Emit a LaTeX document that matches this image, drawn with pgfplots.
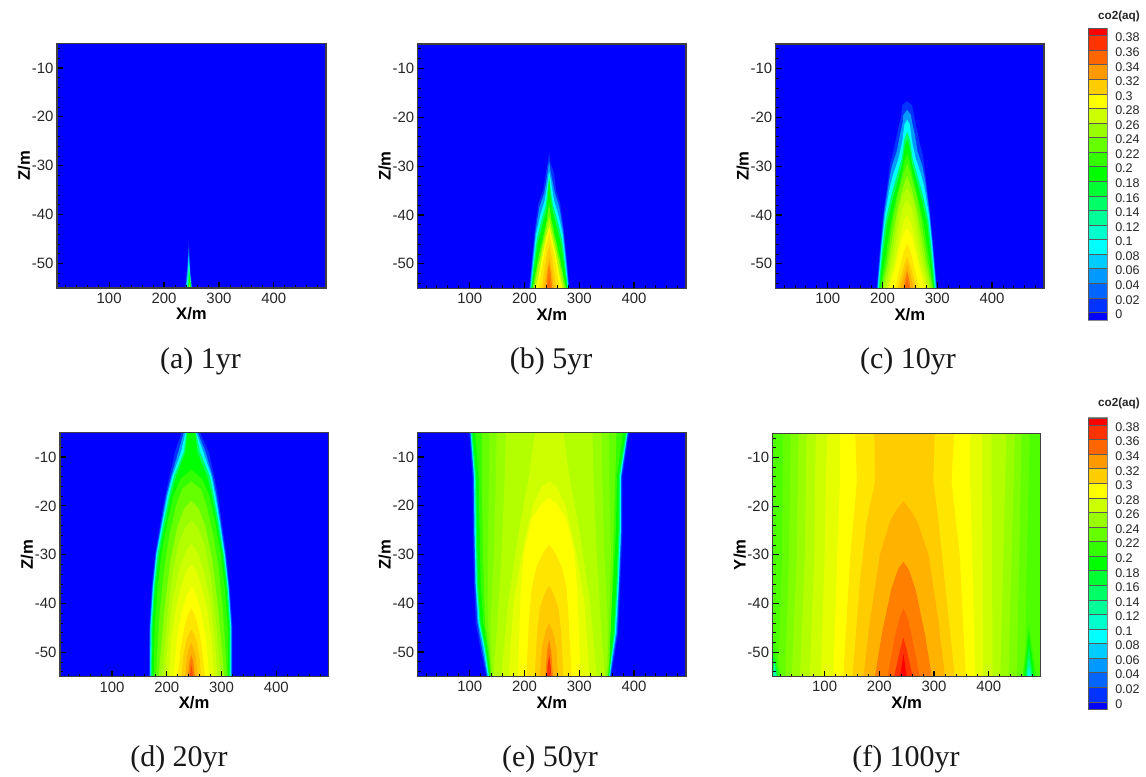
\documentclass[border=0pt]{standalone}
\usepackage{pgfplots}
\pgfplotsset{compat=1.18}
\usepackage{fontspec}
\setmainfont{Liberation Sans}
\newfontfamily\capfont{Liberation Serif}
\definecolor{c0}{HTML}{0000FF}
\definecolor{c1}{HTML}{001AFF}\definecolor{c2}{HTML}{0033FF}\definecolor{c3}{HTML}{004DFF}\definecolor{c4}{HTML}{0066FF}
\definecolor{c5}{HTML}{0080FF}\definecolor{c6}{HTML}{0099FF}\definecolor{c7}{HTML}{00B3FF}\definecolor{c8}{HTML}{00CCFF}
\definecolor{c9}{HTML}{00E6FF}\definecolor{c10}{HTML}{00FFFF}\definecolor{c11}{HTML}{00FFE6}\definecolor{c12}{HTML}{00FFCC}
\definecolor{c13}{HTML}{00FFB3}\definecolor{c14}{HTML}{00FF99}\definecolor{c15}{HTML}{00FF80}\definecolor{c16}{HTML}{00FF66}
\definecolor{c17}{HTML}{00FF4D}\definecolor{c18}{HTML}{00FF33}\definecolor{c19}{HTML}{00FF1A}\definecolor{c20}{HTML}{00FF00}
\definecolor{c21}{HTML}{1AFF00}\definecolor{c22}{HTML}{33FF00}\definecolor{c23}{HTML}{4DFF00}\definecolor{c24}{HTML}{66FF00}
\definecolor{c25}{HTML}{80FF00}\definecolor{c26}{HTML}{99FF00}\definecolor{c27}{HTML}{B3FF00}\definecolor{c28}{HTML}{CCFF00}
\definecolor{c29}{HTML}{E6FF00}\definecolor{c30}{HTML}{FFFF00}\definecolor{c31}{HTML}{FFE600}\definecolor{c32}{HTML}{FFCC00}
\definecolor{c33}{HTML}{FFB300}\definecolor{c34}{HTML}{FF9900}\definecolor{c35}{HTML}{FF8000}\definecolor{c36}{HTML}{FF6600}
\definecolor{c37}{HTML}{FF4D00}\definecolor{c38}{HTML}{FF3300}\definecolor{c39}{HTML}{FF1A00}\definecolor{c40}{HTML}{FF0000}
\newcommand\band[2]{\addplot[fill=#1,draw=none,forget plot] coordinates {#2} --cycle;}
\newcommand\seg[3]{\addplot[fill=#1,draw=black!65,line width=0.35pt,forget plot] coordinates {(0,#2)(1,#2)(1,#3)(0,#3)} --cycle;}
\pgfplotsset{
 panel/.style={scale only axis,xmin=5,xmax=495,ymin=-55,ymax=-5,axis on top,
  xtick={100,200,300,400},xticklabels={100,200,300,400},
  ytick={-10,-20,-30,-40,-50},yticklabels={-10,-20,-30,-40,-50},
  minor xtick={20,40,60,80,120,140,160,180,220,240,260,280,320,340,360,380,420,440,460,480},
  minor ytick={-6,-8,-12,-14,-16,-18,-22,-24,-26,-28,-32,-34,-36,-38,-42,-44,-46,-48,-52,-54},
  tick align=inside,xtick pos=bottom,ytick pos=left,
  major tick length=4.5pt,minor tick length=2.25pt,
  every tick/.style={black,line width=0.9pt},
  minor tick style={black,line width=0.6pt},
  axis line style={draw=black!75,line width=0.8pt},
  tick label style={font=\fontsize{11.2}{13}\selectfont,text=black!85},
  xticklabel style={inner sep=0pt,yshift=-3.5pt},
  yticklabel style={inner sep=0pt,xshift=-2.5pt},
  xlabel={X/m},ylabel={Z/m},
  label style={font=\bfseries\fontsize{12.5}{14}\selectfont},
  xlabel style={inner sep=0pt,yshift=-3pt},
  ylabel style={inner sep=0pt,yshift=1pt},
 },
 cbar/.style={scale only axis,xmin=0,xmax=1,ymin=-0.0105,ymax=0.39,width=14.25pt,height=218.8pt,
  xtick=\empty,ytick={0,0.02,0.04,0.06,0.08,0.1,0.12,0.14,0.16,0.18,0.2,0.22,0.24,0.26,0.28,0.3,0.32,0.34,0.36,0.38},
  yticklabels={0,0.02,0.04,0.06,0.08,0.1,0.12,0.14,0.16,0.18,0.2,0.22,0.24,0.26,0.28,0.3,0.32,0.34,0.36,0.38},
  ytick pos=right,yticklabel pos=right,major tick length=0pt,
  axis line style={draw=black!45,line width=0.6pt},
  tick label style={font=\fontsize{9.4}{11}\selectfont,text=black!85},
  yticklabel style={anchor=west,inner sep=0pt,xshift=6pt,yshift=-1.5pt},
 },
}
\newcommand\cbarbody{%
 \seg{c0}{-0.0105}{0}\seg{c2}{0}{0.02}\seg{c4}{0.02}{0.04}\seg{c6}{0.04}{0.06}\seg{c8}{0.06}{0.08}
 \seg{c10}{0.08}{0.1}\seg{c12}{0.1}{0.12}\seg{c14}{0.12}{0.14}\seg{c16}{0.14}{0.16}\seg{c18}{0.16}{0.18}
 \seg{c20}{0.18}{0.2}\seg{c22}{0.2}{0.22}\seg{c24}{0.22}{0.24}\seg{c26}{0.24}{0.26}\seg{c28}{0.26}{0.28}
 \seg{c30}{0.28}{0.3}\seg{c32}{0.3}{0.32}\seg{c34}{0.32}{0.34}\seg{c36}{0.34}{0.36}\seg{c38}{0.36}{0.38}
 \seg{c40}{0.38}{0.39}}
\newcommand\base{\band{c0}{(5,-55)(495,-55)(495,-5)(5,-5)}}
\begin{document}
\begin{tikzpicture}
\path[use as bounding box] (0pt,0pt) rectangle (859.5pt,582pt);
% (a) 1yr
\begin{axis}[panel,at={(42.75pt,366pt)},anchor=south west,width=201.75pt,height=183.4pt]
\base
\band{c2}{(245,-45.5)(243.5,-48)(242,-51)(238.5,-55)(251,-55)(248,-51)(246.5,-48)}
\band{c6}{(245,-47)(243.8,-49.5)(242,-52)(239.5,-55)(250.5,-55)(247.5,-52)(246.2,-49.5)}
\band{c10}{(245,-48.5)(243.5,-52)(240.5,-55)(250,-55)(247,-52)}
\band{c16}{(245.5,-50)(244,-53)(242.5,-55)(249.5,-55)(247.5,-53)}
\band{c20}{(246,-52)(244.5,-55)(249,-55)}
\band{c26}{(246.5,-54)(245.5,-55)(248,-55)}
\end{axis}
% (b) 5yr
\begin{axis}[panel,at={(313.3pt,365.8pt)},anchor=south west,width=201.2pt,height=183.2pt]
\base
\band{c2}{(245,-27.3)(242,-29.5)(239,-31.4)(234.5,-34.8)(225.4,-37.6)(218.7,-43)(213,-49.9)(208.7,-55)(282,-55)(278,-49.9)(272,-43)(265,-37.6)(257.6,-34.8)(254,-31.4)(248,-29.5)}
\band{c6}{(245,-29)(242.5,-31)(240,-33)(236,-35.5)(227,-38.5)(220,-43.5)(214,-50)(209.7,-55)(281,-55)(277,-50)(271,-43.5)(264,-38.5)(255.5,-35.5)(251,-33)(247.5,-31)}
\band{c10}{(245,-31)(242,-33.5)(237,-37)(229,-40)(221,-44)(215,-50.5)(211,-55)(280,-55)(276,-50.5)(270,-44)(262,-40)(254,-37)(249,-33.5)}
\band{c16}{(245,-32)(242,-35)(239,-38)(231,-41)(222.5,-45)(216,-51)(212,-55)(279,-55)(275,-51)(268.5,-45)(260,-41)(252,-38)(248,-35)}
\band{c20}{(245,-33)(243,-36)(240,-39)(233,-42)(224,-46)(217,-51.5)(213,-55)(278,-55)(274,-51.5)(267,-46)(258,-42)(251,-39)(247,-36)}
\band{c24}{(245,-37.6)(241,-41)(235,-44)(227,-48)(218,-53)(215,-55)(276,-55)(272,-53)(263,-48)(255,-44)(249,-41)}
\band{c27}{(245,-40.3)(240,-43)(233,-46.5)(226,-50)(217,-55)(273,-55)(264,-50)(257,-46.5)(250,-43)}
\band{c30}{(245,-42.4)(241,-44)(235,-47)(225,-53)(220,-55)(270,-55)(265,-53)(255,-47)(249,-44)}
\band{c31}{(245,-43.7)(240,-46)(234,-49.5)(226,-55)(264,-55)(256,-49.5)(250,-46)}
\band{c32}{(245,-46)(241,-48)(236,-51.5)(232,-55)(258,-55)(254,-51.5)(249,-48)}
\band{c33}{(245,-48.5)(241.5,-50.5)(236,-55)(254,-55)(248.5,-50.5)}
\band{c35}{(245,-50)(242,-52)(239.5,-55)(250.5,-55)(248,-52)}
\band{c36}{(245,-52)(242.5,-55)(247.5,-55)}
\end{axis}
% (c) 10yr
\begin{axis}[panel,at={(581.8pt,365.8pt)},anchor=south west,width=201.2pt,height=183.2pt]
\base
\band{c2}{(245,-16.7)(236,-17.5)(234,-19.8)(229,-22)(223,-25.3)(219,-27.3)(214,-29.4)(210,-32.8)(201.6,-39.6)(195.5,-46.5)(189.4,-55)(299.5,-55)(293,-46.5)(287,-39.6)(279.5,-32.8)(276,-29.4)(273,-27.3)(268,-25.3)(262,-22)(258,-19.8)(254,-17.5)}
\band{c6}{(245,-18.5)(238,-19.5)(237,-21)(232,-23.5)(226,-27)(217,-30)(212,-33)(203,-39.6)(197,-46.5)(190.5,-55)(298.5,-55)(292,-46.5)(286,-39.6)(278,-33)(273,-30)(264,-27)(259,-23.5)(254,-21)(252,-19.5)}
\band{c10}{(245,-20.5)(240,-21.5)(236,-25)(229,-28.5)(220,-31.5)(214,-34)(204.5,-40)(198,-46.5)(191.5,-55)(297.5,-55)(291,-46.5)(285,-40)(276,-34)(270,-31.5)(261,-28.5)(254,-25)(250,-21.5)}
\band{c16}{(245,-23)(240,-24.5)(235,-28.5)(226,-32)(216,-36)(206,-41)(199.5,-47)(193,-55)(296,-55)(289.5,-47)(283.5,-41)(274,-36)(264,-32)(255,-28.5)(250,-24.5)}
\band{c20}{(245,-24.5)(241,-26)(236,-29.5)(228,-33)(218,-37)(208,-42)(201,-48)(194.5,-55)(294.5,-55)(288,-48)(282,-42)(272,-37)(262,-33)(254,-29.5)(249,-26)}
\band{c22}{(245,-27.3)(240,-29)(234,-32.5)(226,-36)(216,-41)(206,-48)(196,-55)(293,-55)(284,-48)(274,-41)(264,-36)(256,-32.5)(250,-29)}
\band{c24}{(245,-29.4)(237,-32)(228,-36)(219,-41)(208,-49)(198,-55)(292,-55)(282,-49)(271,-41)(262,-36)(253,-32)}
\band{c26}{(245,-32)(237,-34.5)(229,-38)(219,-44)(210,-50)(200,-55)(290,-55)(280,-50)(271,-44)(261,-38)(253,-34.5)}
\band{c27}{(245,-34.5)(237,-36)(229,-39.5)(220,-46)(212,-51)(203,-55)(287,-55)(278,-51)(270,-46)(261,-39.5)(253,-36)}
\band{c28}{(245,-37)(237,-38.5)(230,-42)(221,-48)(206,-55)(284,-55)(269,-48)(260,-42)(253,-38.5)}
\band{c29}{(245,-40)(238,-41.5)(231,-45)(222,-50)(209,-55)(281,-55)(268,-50)(259,-45)(252,-41.5)}
\band{c30}{(245,-42.8)(238,-44)(231,-47)(223,-51)(212,-55)(278,-55)(267,-51)(259,-47)(252,-44)}
\band{c31}{(245,-45.8)(239,-47.5)(233,-50)(223.5,-55)(266.5,-55)(257,-50)(251,-47.5)}
\band{c32}{(245,-48.5)(240,-50)(235,-52)(228,-55)(262,-55)(255,-52)(250,-50)}
\band{c33}{(245,-50)(241,-51.5)(236,-53.5)(232,-55)(258,-55)(254,-53.5)(249,-51.5)}
\band{c35}{(245,-51.5)(241.5,-53)(238.5,-55)(251.5,-55)(248.5,-53)}
\band{c36}{(245,-53)(241.5,-55)(248.5,-55)}
\end{axis}
% (d) 20yr
\begin{axis}[panel,at={(45pt,74.5pt)},anchor=south west,width=201.2pt,height=183pt]
\base
\band{c2}{(227,-5)(215,-9)(205,-14)(197,-18)(189,-23)(178.5,-30)(172.4,-36.6)(168,-44.8)(167.5,-55)(320,-55)(320,-44.8)(315,-36.6)(309,-30)(300,-23)(294,-18)(287,-14)(277,-9)(261,-5)}
\band{c6}{(231,-5)(221,-9)(208,-14)(199,-18)(191,-23)(180,-30)(174,-36.6)(169.5,-44.8)(169,-55)(318.5,-55)(318.5,-44.8)(313.5,-36.6)(307,-30)(298,-23)(291,-18)(284,-14)(271,-9)(257,-5)}
\band{c10}{(234,-5)(226,-9)(210,-14)(201,-18)(192.5,-23)(181,-30)(175,-36.6)(170.5,-44.8)(170,-55)(317.5,-55)(317.5,-44.8)(312.5,-36.6)(306,-30)(296.5,-23)(289,-18)(282,-14)(267,-9)(254,-5)}
\band{c16}{(236,-5)(231,-9)(213,-14)(204,-18)(195,-23)(183,-30)(177,-36.6)(172,-44.8)(171.5,-55)(316,-55)(316,-44.8)(311,-36.6)(304,-30)(294,-23)(286,-18)(279,-14)(261,-9)(253,-5)}
\band{c20}{(238,-5)(234,-9)(217,-14)(207,-18)(198,-23)(186,-30)(179,-36.6)(174,-44.8)(173,-55)(314.5,-55)(314.5,-44.8)(309,-36.6)(302,-30)(291,-23)(283,-18)(274,-14)(256,-9)(252,-5)}
\band{c22}{(245,-12.6)(225,-14.5)(212,-18)(202,-23)(190,-30)(183,-37)(178,-45)(176,-55)(312,-55)(312,-45)(306,-37)(299,-30)(288,-23)(278,-18)(265,-14.5)}
\band{c24}{(245,-15)(228,-16.5)(217,-20)(205,-26)(195,-33)(187,-42)(180,-55)(310,-55)(303,-42)(295,-33)(285,-26)(273,-20)(262,-16.5)}
\band{c26}{(245,-19)(232,-20.5)(220,-24)(207,-31)(197,-40)(185,-55)(305,-55)(293,-40)(283,-31)(270,-24)(258,-20.5)}
\band{c27}{(245,-23)(233,-24.5)(221,-28)(209,-35)(200,-44)(191,-55)(299,-55)(290,-44)(281,-35)(269,-28)(257,-24.5)}
\band{c28}{(245,-27.7)(234,-29.5)(223,-33)(211,-39)(203,-47)(197,-55)(293,-55)(287,-47)(279,-39)(267,-33)(256,-29.5)}
\band{c29}{(245,-32)(235,-33.5)(225,-37)(215,-42)(208,-48)(204,-55)(286,-55)(282,-48)(275,-42)(265,-37)(255,-33.5)}
\band{c30}{(245,-36.5)(236,-38.4)(227,-42)(219,-47)(212,-55)(278,-55)(271,-47)(263,-42)(254,-38.4)}
\band{c31}{(245,-41)(238,-42.5)(231,-45.5)(225,-49.5)(220,-55)(270,-55)(265,-49.5)(259,-45.5)(252,-42.5)}
\band{c32}{(245,-45.3)(239,-46.5)(234,-48.5)(230,-51)(227,-55)(263,-55)(260,-51)(256,-48.5)(251,-46.5)}
\band{c33}{(245,-48)(241,-49)(237,-51)(233.5,-55)(256.5,-55)(253,-51)(249,-49)}
\band{c35}{(245,-50.5)(241.5,-52)(238.5,-55)(251.5,-55)(248.5,-52)}
\band{c37}{(245,-52.5)(242,-55)(248,-55)}
\end{axis}
% (e) 50yr
\begin{axis}[panel,at={(313.3pt,74.8pt)},anchor=south west,width=201.2pt,height=182.7pt]
\base
\band{c2}{(99,-5)(105,-14)(106,-25)(108,-36)(111,-44)(119,-49)(130,-55)(358,-55)(362,-52.5)(371,-46)(375,-36)(379,-25)(379,-14)(391,-5)}
\band{c6}{(101,-5)(107,-14)(108,-25)(110,-36)(114,-44)(122,-49)(132,-55)(357,-55)(360,-52.5)(369,-46)(373,-36)(377,-25)(377,-14)(389,-5)}
\band{c10}{(102,-5)(108,-14)(109,-25)(111,-36)(116,-44)(125,-49)(133,-55)(356,-55)(358.5,-52.5)(367,-46)(372,-36)(376,-25)(376,-14)(388,-5)}
\band{c16}{(103,-5)(110,-14)(111,-25)(113,-36)(118,-44)(127,-49)(135,-55)(355,-55)(357.5,-52.5)(365,-46)(370,-36)(374,-25)(374,-14)(387,-5)}
\band{c20}{(105,-5)(112,-14)(113,-25)(115,-36)(120,-44)(129,-49)(136,-55)(354,-55)(356.5,-52.5)(363,-46)(368,-36)(372,-25)(372,-14)(385,-5)}
\band{c22}{(110,-5)(116,-14)(118,-25)(120,-36)(125,-44)(132,-49)(138,-55)(353,-55)(355.5,-52.5)(357,-46)(362,-36)(367,-25)(369,-14)(380,-5)}
\band{c24}{(122,-5)(122,-14)(124,-30)(128,-44)(135,-50)(139,-55)(352,-55)(354.5,-52)(358,-44)(362,-30)(366,-14)(368,-5)}
\band{c25}{(136,-5)(135,-14)(133,-30)(133,-44)(137,-50)(140,-55)(351,-55)(353,-52)(355,-44)(358,-30)(355,-14)(354,-5)}
\band{c26}{(149,-5)(148,-14)(144,-30)(138,-44)(139,-50)(141.5,-55)(349,-55)(351.5,-52)(352,-44)(346,-30)(342,-14)(341,-5)}
\band{c27}{(166,-5)(164,-14)(158,-30)(150,-45)(143,-55)(347,-55)(340,-45)(332,-30)(326,-14)(324,-5)}
\band{c28}{(219,-5)(208,-14)(190,-25)(170,-40)(158,-55)(332,-55)(320,-40)(300,-25)(282,-14)(271,-5)}
\band{c29}{(245,-15)(232,-16)(215,-20)(195,-30)(180,-40)(171,-55)(318.5,-55)(310,-40)(295,-30)(275,-20)(258,-16)}
\band{c30}{(245,-18.4)(232,-19.5)(213,-22.8)(199,-29.7)(193,-38)(188,-55)(302,-55)(297,-38)(291,-29.7)(277,-22.8)(258,-19.5)}
\band{c31}{(245,-28)(235,-29.5)(222,-32.5)(213,-37)(208,-44)(203.4,-55)(286,-55)(281,-44)(277,-37)(268,-32.5)(255,-29.5)}
\band{c32}{(245,-36.4)(237,-38)(228,-41)(223,-46)(218.7,-55)(271,-55)(267,-46)(262,-41)(253,-38)}
\band{c33}{(245,-44)(238,-46)(232,-49)(228,-55)(261,-55)(258,-49)(252,-46)}
\band{c35}{(245,-47.5)(241,-50)(238,-55)(252,-55)(249,-50)}
\band{c38}{(245,-50.5)(242,-53)(241,-55)(249,-55)(248,-53)}
\end{axis}
% (f) 100yr
\begin{axis}[panel,ylabel={Y/m},at={(579.5pt,74.6pt)},anchor=south west,width=201pt,height=182.6pt]
\band{c23}{(5,-55)(495,-55)(495,-5)(5,-5)}
\band{c24}{(24.5,-5)(22,-30)(15,-55)(466,-55)(470,-30)(475,-5)}
\band{c25}{(38,-5)(35,-30)(28,-55)(451,-55)(456,-30)(460,-5)}
\band{c26}{(52,-5)(49,-30)(40,-55)(436,-55)(442,-30)(448,-5)}
\band{c27}{(67,-5)(64,-30)(55,-55)(421,-55)(427,-30)(432,-5)}
\band{c28}{(84,-5)(81,-30)(73,-55)(407,-55)(406,-30)(405,-5)}
\band{c29}{(105,-5)(102,-15)(100,-30)(93,-55)(390,-55)(389,-30)(388,-15)(388,-5)}
\band{c30}{(128,-5)(128,-15)(123,-30)(116,-55)(375,-55)(370,-30)(366,-15)(366,-5)}
\band{c31}{(156,-5)(159,-15)(147,-30)(134,-55)(358,-55)(347,-30)(332,-15)(337,-5)}
\band{c32}{(191,-5)(192,-15)(177,-23)(165,-35)(151,-55)(338,-55)(322,-38)(308,-23)(299,-15)(301,-5)}
\band{c33}{(244,-19)(233,-20.5)(220,-23)(201,-30)(183,-43.5)(171,-55)(320,-55)(308,-43.5)(290,-30)(269,-23)(255,-20.5)}
\band{c35}{(244,-31.4)(234,-33)(222,-37)(205,-46)(192,-55)(296,-55)(283,-46)(266,-37)(254,-33)}
\band{c36}{(244,-41)(237,-43)(228,-47)(215,-55)(274,-55)(260,-47)(252,-43)}
\band{c38}{(244,-47)(238,-49.5)(227,-55)(261,-55)(250,-49.5)}
\band{c40}{(244,-50.3)(238,-55)(250,-55)}
\band{c22}{(473,-44)(462,-55)(488,-55)}
\band{c20}{(473,-46)(465,-55)(484,-55)}
\band{c17}{(473,-48.5)(467,-55)(481,-55)}
\band{c14}{(473,-51)(469,-55)(479,-55)}
\band{c11}{(473,-53)(471,-55)(477,-55)}
\band{c22}{(5,-47)(14,-52)(20,-55)(5,-55)}
\band{c18}{(5,-50)(12,-53)(15,-55)(5,-55)}
\band{c13}{(8,-52)(12,-55)(6,-55)}
\end{axis}
% colour bars
\begin{axis}[cbar,at={(816pt,342pt)},anchor=south west]
\cbarbody
\end{axis}
\begin{axis}[cbar,at={(816pt,49.9pt)},anchor=south west]
\cbarbody
\end{axis}
\node[font=\bfseries\fontsize{8.8}{10}\selectfont,text=black!85] at (839.2pt,569.5pt) {co2(aq)};
\node[font=\bfseries\fontsize{8.8}{10}\selectfont,text=black!85] at (839.2pt,279.5pt) {co2(aq)};
% captions
\foreach \px/\py/\t in {200.5/361/(a) 1yr,551/361/(b) 5yr,908/361/(c) 10yr,179/759/(d) 20yr,550/759/(e) 50yr,906/759/(f) 100yr}{
 \node[font=\capfont\fontsize{22.5}{26}\selectfont,text=black!90] at ({\px*0.75pt},{(776-\py)*0.75pt}) {\t};
}
\end{tikzpicture}
\end{document}
